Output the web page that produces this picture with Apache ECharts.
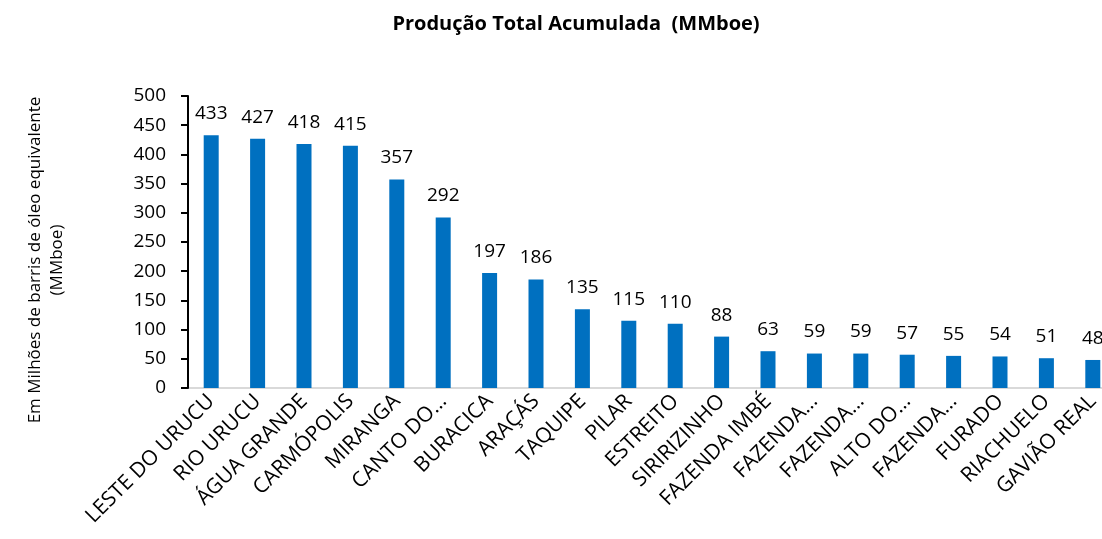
<!DOCTYPE html>
<html>
<head>
<meta charset="utf-8">
<script src="https://cdn.jsdelivr.net/npm/echarts@6/dist/echarts.min.js"></script>
<style>
  html, body { margin: 0; padding: 0; background: #fff; overflow: hidden; }
  #main { width: 1116px; height: 539px; }
</style>
</head>
<body>
<div id="main"></div>
<script>
// campos e produção acumulada (MMboe)
var campos = ['LESTE DO URUCU', 'RIO URUCU', 'ÁGUA GRANDE', 'CARMÓPOLIS', 'MIRANGA',
  'CANTO DO…', 'BURACICA', 'ARAÇÁS', 'TAQUIPE', 'PILAR', 'ESTREITO', 'SIRIRIZINHO',
  'FAZENDA IMBÉ', 'FAZENDA…', 'FAZENDA…', 'ALTO DO…', 'FAZENDA…', 'FURADO',
  'RIACHUELO', 'GAVIÃO REAL'];
var producao = [433, 427, 418, 415, 357, 292, 197, 186, 135, 115, 110, 88,
  63, 59, 59, 57, 55, 54, 51, 48];
var yTicks = [0, 50, 100, 150, 200, 250, 300, 350, 400, 450, 500];

var fonte = 'Open Sans, Noto Sans, sans-serif';

var option = {
  animation: false,
  title: {
    text: 'Produção Total Acumulada  (MMboe)',
    left: 571,
    top: 9,
    textAlign: 'center',
    textStyle: { fontFamily: fonte, fontSize: 20, fontWeight: 'bold', color: '#000' }
  },
  graphic: [{
    type: 'text',
    x: 46,
    y: 260,
    rotation: Math.PI / 2,
    style: {
      text: 'Em Milhões de barris de óleo equivalente\n(MMboe)',
      font: '17px ' + fonte,
      fill: '#000',
      align: 'center',
      verticalAlign: 'middle',
      lineHeight: 22
    }
  }],
  grid: { left: 188, right: 0, top: 96, bottom: 151 },
  xAxis: {
    type: 'category',
    data: campos,
    axisLine: { lineStyle: { color: '#d9d9d9', width: 2 } },
    axisTick: { show: false },
    axisLabel: {
      rotate: 45,
      interval: 0,
      margin: 10,
      fontFamily: fonte,
      fontSize: 21,
      color: '#000'
    }
  },
  yAxis: {
    type: 'value',
    min: yTicks[0],
    max: yTicks[yTicks.length - 1],
    interval: 50,
    z: 3,
    axisLine: { show: true, lineStyle: { color: '#000', width: 2 } },
    axisTick: { show: true, length: 7, lineStyle: { color: '#000', width: 2 } },
    splitLine: { show: false },
    axisLabel: { fontFamily: fonte, fontSize: 19, color: '#000', margin: 22 }
  },
  series: [{
    type: 'bar',
    data: producao,
    barWidth: 15,
    itemStyle: { color: '#0070c0' },
    label: {
      show: true,
      position: 'top',
      distance: 12,
      fontFamily: fonte,
      fontSize: 19,
      color: '#000'
    }
  }]
};

var myChart = echarts.init(document.getElementById('main'));
myChart.setOption(option);
</script>
</body>
</html>
